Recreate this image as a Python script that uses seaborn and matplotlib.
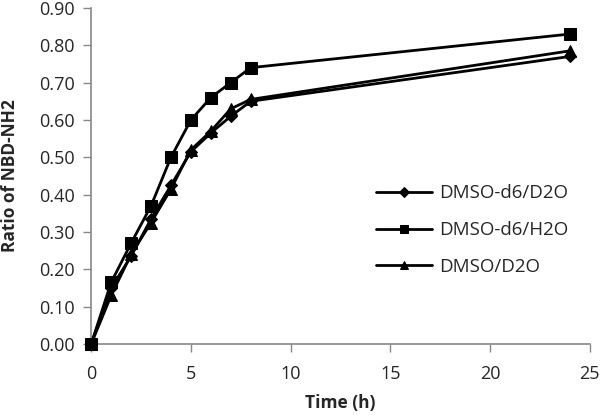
import matplotlib
matplotlib.use("Agg")
import matplotlib.pyplot as plt
import seaborn as sns
import pandas as pd

time_h = [0, 1, 2, 3, 4, 5, 6, 7, 8, 24]
dmso_d6_d2o = [0.0, 0.15, 0.235, 0.335, 0.425, 0.515, 0.565, 0.61, 0.65, 0.77]
dmso_d6_h2o = [0.0, 0.165, 0.27, 0.37, 0.50, 0.60, 0.66, 0.70, 0.74, 0.83]
dmso_d2o = [0.0, 0.13, 0.24, 0.325, 0.415, 0.52, 0.57, 0.63, 0.655, 0.785]
series_names = ["DMSO-d6/D2O", "DMSO-d6/H2O", "DMSO/D2O"]
x_ticks = [0, 5, 10, 15, 20, 25]
y_ticks = [0.0, 0.1, 0.2, 0.3, 0.4, 0.5, 0.6, 0.7, 0.8, 0.9]

sns.set_style("white")
plt.rcParams['font.family'] = ['Open Sans', 'DejaVu Sans']

rows = []
for name, vals in zip(series_names, [dmso_d6_d2o, dmso_d6_h2o, dmso_d2o]):
    for t, v in zip(time_h, vals):
        rows.append({"Time": t, "Ratio": v, "Series": name})
df = pd.DataFrame(rows)

fig = plt.figure(figsize=(6, 4.16), dpi=100)
ax = fig.add_axes([0.152, 0.173, 0.831, 0.808])

markers = {"DMSO-d6/D2O": "D", "DMSO-d6/H2O": "s", "DMSO/D2O": "^"}
sizes = {"DMSO-d6/D2O": 6, "DMSO-d6/H2O": 8, "DMSO/D2O": 8}
for name in series_names:
    sub = df[df["Series"] == name]
    sns.lineplot(data=sub, x="Time", y="Ratio", ax=ax, color="black", lw=2,
                 marker=markers[name], markersize=sizes[name], markeredgecolor="black",
                 markerfacecolor="black", label=name, clip_on=False, zorder=3)

ax.set_xlim(0, 25)
ax.set_ylim(0, 0.9)
ax.set_xticks(x_ticks)
ax.set_yticks(y_ticks)
ax.set_yticklabels([f"{v:.2f}" for v in y_ticks])
ax.tick_params(labelsize=13, length=6, width=1, color="#888888", direction="out", pad=6)
ax.tick_params(axis="x", pad=9)
ax.tick_params(axis="both", which="both", bottom=True, left=True)
for s in ["top", "right"]:
    ax.spines[s].set_visible(False)
for s in ["left", "bottom"]:
    ax.spines[s].set_color("#888888")
    ax.spines[s].set_linewidth(1.2)
ax.set_xlabel("Time (h)", fontsize=12.5, fontweight="bold", labelpad=8)
ax.set_ylabel("Ratio of NBD-NH2", fontsize=12.5, fontweight="bold", labelpad=14)

leg = ax.legend(loc="upper left", bbox_to_anchor=(0.537, 0.525), frameon=False,
                fontsize=13.5, handlelength=3, handletextpad=0.4,
                labelspacing=1.0, markerscale=0.8)
fig.savefig("out.png", dpi=100)
